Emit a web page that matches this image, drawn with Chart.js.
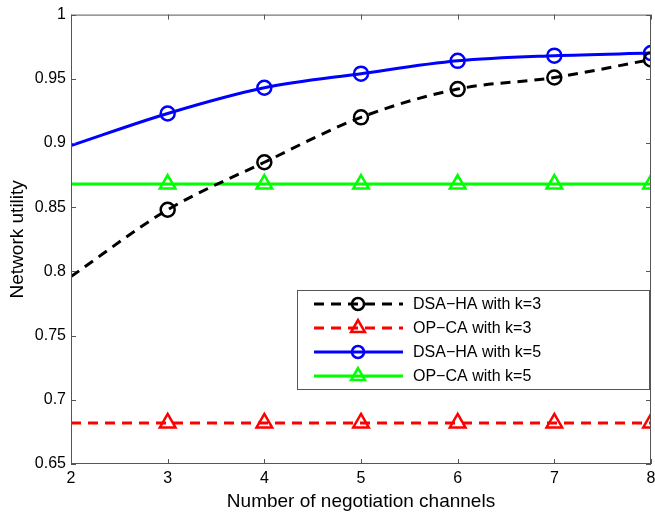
<!DOCTYPE html>
<html>
<head>
<meta charset="utf-8">
<script src="https://cdn.jsdelivr.net/npm/chart.js@4/dist/chart.umd.min.js"></script>
<style>
  html, body { margin: 0; padding: 0; background: #fff; }
  #wrap { width: 655px; height: 514px; position: relative; }
</style>
</head>
<body>
<div id="wrap"><canvas id="chart"></canvas></div>
<script>
// x: number of negotiation channels
const channels = [2, 3, 4, 5, 6, 7, 8];
const dsaHaK3 = [0.796, 0.848, 0.885, 0.920, 0.942, 0.951, 0.965];
const opCaK3 = [0.682, 0.682, 0.682, 0.682, 0.682, 0.682, 0.682];
const dsaHaK5 = [0.898, 0.923, 0.943, 0.954, 0.964, 0.968, 0.970];
const opCaK5 = [0.868, 0.868, 0.868, 0.868, 0.868, 0.868, 0.868];
const yTicks = [0.65, 0.7, 0.75, 0.8, 0.85, 0.9, 0.95, 1];

const FONT = 'Liberation Sans, Arial, sans-serif';

function toPoints(vals) {
  return channels.map((c, i) => ({ x: c, y: vals[i] }));
}

// markers only from x=3 on, like the figure
function markerSizes(r) {
  return channels.map((c) => (c === 2 ? 0 : r));
}

function series(label, vals, color, dashed, marker, smooth) {
  const r = marker === 'triangle' ? 9 : 7;
  return {
    label,
    data: toPoints(vals),
    borderColor: color,
    backgroundColor: 'rgba(0,0,0,0)',
    borderWidth: 3,
    borderDash: dashed ? [10, 7] : [],
    pointStyle: marker,
    pointRadius: markerSizes(r),
    pointBorderWidth: 2.5,
    pointBorderColor: color,
    pointBackgroundColor: 'rgba(0,0,0,0)',
    cubicInterpolationMode: smooth ? 'monotone' : 'default',
    tension: smooth ? 0.4 : 0,
    fill: false,
    clip: 0,
    _r: r,
  };
}

const datasets = [
  series('DSA\u2212HA with k=3', dsaHaK3, '#000000', true, 'circle', true),
  series('OP\u2212CA with k=3', opCaK3, '#ff0000', true, 'triangle', false),
  series('DSA\u2212HA with k=5', dsaHaK5, '#0000ff', false, 'circle', true),
  series('OP\u2212CA with k=5', opCaK5, '#00ff00', false, 'triangle', false),
];

// box around plot + inward ticks on all four sides (matlab style),
// x tick labels drawn here so the last one can hang past the plot edge
const frameTicksPlugin = {
  id: 'frameTicks',
  afterDatasetsDraw(chart) {
    const { ctx, chartArea: a, scales } = chart;
    ctx.save();
    ctx.strokeStyle = '#555';
    ctx.lineWidth = 1;
    ctx.strokeRect(a.left + 0.5, a.top + 0.5, a.right - a.left - 1, a.bottom - a.top - 1);
    const len = 5;
    ctx.beginPath();
    channels.forEach((c) => {
      const x = Math.round(scales.x.getPixelForValue(c)) + 0.5;
      ctx.moveTo(x, a.bottom); ctx.lineTo(x, a.bottom - len);
      ctx.moveTo(x, a.top); ctx.lineTo(x, a.top + len);
    });
    yTicks.forEach((v) => {
      const y = Math.round(scales.y.getPixelForValue(v)) + 0.5;
      ctx.moveTo(a.left, y); ctx.lineTo(a.left + len, y);
      ctx.moveTo(a.right, y); ctx.lineTo(a.right - len, y);
    });
    ctx.stroke();

    ctx.fillStyle = '#000';
    ctx.font = '16px ' + FONT;
    ctx.textAlign = 'center';
    ctx.textBaseline = 'middle';
    channels.forEach((c) => {
      ctx.fillText(String(c), scales.x.getPixelForValue(c), a.bottom + 15);
    });
    ctx.restore();
  }
};

// legend box inside the plot, lower right
const insideLegendPlugin = {
  id: 'insideLegend',
  afterDraw(chart) {
    const ctx = chart.ctx;
    const box = { left: 297, top: 290, right: 649, bottom: 389 };
    ctx.save();
    ctx.fillStyle = '#fff';
    ctx.fillRect(box.left, box.top, box.right - box.left, box.bottom - box.top);
    ctx.strokeStyle = '#555';
    ctx.lineWidth = 1;
    ctx.strokeRect(box.left + 0.5, box.top + 0.5, box.right - box.left, box.bottom - box.top);
    const rowY = [304, 328, 352, 376];
    chart.data.datasets.forEach((ds, i) => {
      const y = rowY[i];
      ctx.strokeStyle = ds.borderColor;
      ctx.lineWidth = 3;
      ctx.setLineDash(ds.borderDash);
      ctx.beginPath();
      ctx.moveTo(314, y);
      ctx.lineTo(403, y);
      ctx.stroke();
      ctx.setLineDash([]);
      ctx.lineWidth = 2.5;
      ctx.fillStyle = 'rgba(0,0,0,0)';
      Chart.helpers.drawPoint(ctx, { pointStyle: ds.pointStyle, radius: ds._r - 1, rotation: 0, borderWidth: 2.5 }, 358, y);
      ctx.fillStyle = '#000';
      ctx.font = '16px ' + FONT;
      ctx.textAlign = 'left';
      ctx.textBaseline = 'middle';
      ctx.fillText(ds.label, 413, y + 1);
    });
    ctx.restore();
  }
};

new Chart(document.getElementById('chart'), {
  type: 'line',
  data: { datasets },
  options: {
    responsive: true,
    maintainAspectRatio: false,
    animation: false,
    layout: { autoPadding: false, padding: { top: 13, right: 4, left: 0, bottom: 0 } },
    plugins: {
      legend: { display: false },
      tooltip: { enabled: false },
    },
    scales: {
      x: {
        type: 'linear',
        min: 2,
        max: 8,
        afterBuildTicks(scale) { scale.ticks = channels.map((v) => ({ value: v })); },
        afterFit(scale) { scale.height = 50; },
        grid: { display: false, drawTicks: false },
        border: { display: false },
        ticks: { display: false },
        title: { display: true, text: 'Number of negotiation channels', color: '#000', font: { family: FONT, size: 19 }, padding: { top: 0, bottom: 1 } },
      },
      y: {
        min: 0.65,
        max: 1,
        afterBuildTicks(scale) { scale.ticks = yTicks.map((v) => ({ value: v })); },
        afterFit(scale) { scale.width = 71; },
        grid: { display: false, drawTicks: false },
        border: { display: false },
        ticks: {
          color: '#000',
          font: { family: FONT, size: 16 },
          padding: 5,
          autoSkip: false,
          callback: (v) => String(Number(v.toFixed(2))),
        },
        title: { display: true, text: 'Network utility', color: '#000', font: { family: FONT, size: 19 }, padding: { top: 6, bottom: 0 } },
      },
    },
  },
  plugins: [frameTicksPlugin, insideLegendPlugin],
});
</script>
</body>
</html>
